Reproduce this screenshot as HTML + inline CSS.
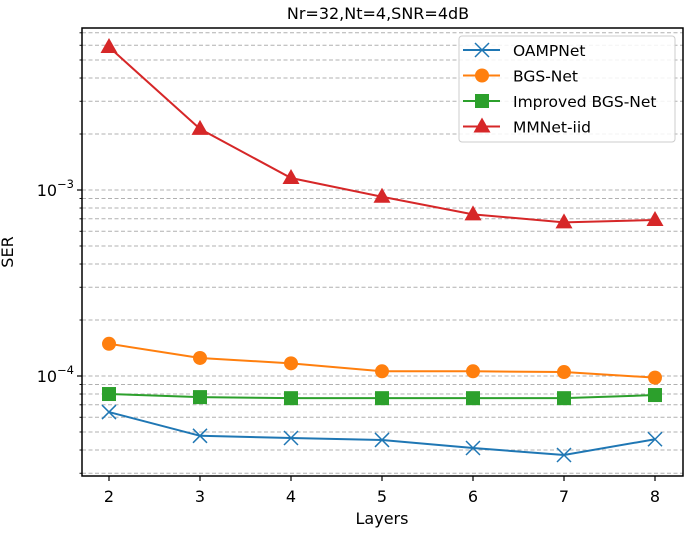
<!DOCTYPE html>
<html><head><meta charset="utf-8"><style>
body{margin:0;background:#fff;}
svg text{font-family:"DejaVu Sans","Liberation Sans",sans-serif;fill:#000;}
</style></head><body>
<svg id="chart" width="685" height="529" viewBox="0 0 685 529" xmlns="http://www.w3.org/2000/svg">
<text x="378" y="19" font-size="16" text-anchor="middle">Nr=32,Nt=4,SNR=4dB</text>
<g id="grid"></g>
<g id="series"></g>
<rect x="82" y="28" width="601" height="448" fill="none" stroke="#000" stroke-width="1.5"/>
<g id="axes"></g>
<text x="382" y="524" font-size="16" text-anchor="middle">Layers</text>
<text x="0" y="0" font-size="16" text-anchor="middle" transform="translate(13,252) rotate(-90)">SER</text>
<g>
<rect x="459" y="36" width="216" height="106" rx="3" fill="#fff" fill-opacity="0.85" stroke="#ccc"/>
<g id="legend-items"></g>
</g>
</svg>
<script>
const layers=[2,3,4,5,6,7,8];
const oamp=[6.4e-5,4.77e-5,4.64e-5,4.53e-5,4.1e-5,3.76e-5,4.57e-5];
const bgs=[1.49e-4,1.25e-4,1.17e-4,1.06e-4,1.06e-4,1.05e-4,0.98e-4];
const ibgs=[8.0e-5,7.7e-5,7.6e-5,7.6e-5,7.6e-5,7.6e-5,7.9e-5];
const mmnet=[5.87e-3,2.13e-3,1.16e-3,9.2e-4,7.4e-4,6.7e-4,6.9e-4];
const seriesNames=["OAMPNet","BGS-Net","Improved BGS-Net","MMNet-iid"];
const xTicks=[2,3,4,5,6,7,8];
const NS="http://www.w3.org/2000/svg";
const X=v=>109+(v-2)*91;
const Y=v=>190-(Math.log10(v)+3)*186;
function mk(t,a,p){const e=document.createElementNS(NS,t);for(const k in a)e.setAttribute(k,a[k]);p.appendChild(e);return e;}
const grid=document.getElementById('grid'),axes=document.getElementById('axes'),sg=document.getElementById('series');
for(let d=-5;d<=-3;d++){for(let m=1;m<=9;m++){const v=m*Math.pow(10,d);const y=Y(v);if(y<28||y>477)continue;
const g=mk('line',{x1:82,x2:683,y1:y,y2:y,stroke:'#b0b0b0','stroke-dasharray':'4,2.5','stroke-width':1},grid);


const t=mk('line',{x1:m===1?77:79.5,x2:82,y1:y,y2:y,stroke:'#000','stroke-width':m===1?1.2:0.9},axes);


if(m===1){const tx=mk('text',{x:74,y:y+6,'font-size':16,'text-anchor':'end'},axes);


tx.innerHTML='10<tspan dy="-8" font-size="11.5">\u2212'+(-d)+'</tspan>';}}}
xTicks.forEach(v=>{const t=mk('line',{x1:X(v),x2:X(v),y1:476,y2:481,stroke:'#000','stroke-width':1.2},axes);


const tx=mk('text',{x:X(v),y:502,'font-size':16,'text-anchor':'middle'},axes);tx.textContent=v;

});
const cols=['#1f77b4','#ff7f0e','#2ca02c','#d62728'];
function marker(k,x,y,c,p){let e;
if(k===0){e=mk('path',{d:`M${x-7},${y-7}L${x+7},${y+7}M${x-7},${y+7}L${x+7},${y-7}`,stroke:c,'stroke-width':1.5,fill:'none'},p);}
else if(k===1){e=mk('circle',{cx:x,cy:y,r:7,fill:c},p);}
else if(k===2){e=mk('rect',{x:x-7,y:y-7,width:14,height:14,fill:c},p);}
else{e=mk('path',{d:`M${x},${y-9}L${x+8.5},${y+6}L${x-8.5},${y+6}Z`,fill:c},p);}
return e;}
[oamp,bgs,ibgs,mmnet].forEach((arr,k)=>{
const pl=mk('polyline',{points:arr.map((v,i)=>X(layers[i])+','+Y(v)).join(' '),fill:'none',stroke:cols[k],'stroke-width':2},sg);


arr.forEach((v,i)=>{const m=marker(k,X(layers[i]),Y(v),cols[k],sg);

});});
const li=document.getElementById('legend-items');
seriesNames.forEach((n,k)=>{const y=50+k*25.5;
const l=mk('line',{x1:463,x2:500,y1:y,y2:y,stroke:cols[k],'stroke-width':2},li);


const m=marker(k,482,y,cols[k],li);


const t=mk('text',{x:513,y:y+6,'font-size':15.5},li);t.textContent=n;

});
</script>
</body></html>
